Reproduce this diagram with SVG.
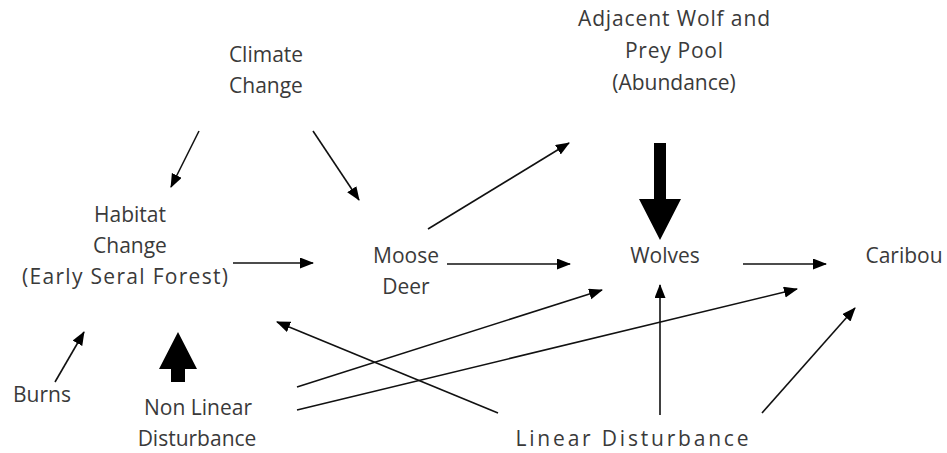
<svg xmlns="http://www.w3.org/2000/svg" width="947" height="453" viewBox="0 0 947 453">
<style>
text{font-family:"Open Sans","DejaVu Sans",sans-serif;font-size:21px;fill:#3a3a3a;text-anchor:middle}
.c line{stroke:#111;stroke-width:1.6;marker-end:url(#ah)}
.thick{fill:#000}
</style>
<defs>
<marker id="ah" markerUnits="userSpaceOnUse" markerWidth="14" markerHeight="12" refX="13" refY="5.5" orient="auto">
<path d="M0,0 L14,5.5 L0,11 z" fill="#000"/>
</marker>
</defs>
<rect width="947" height="453" fill="#fff"/>
<g id="climate"><text x="266" y="62">Climate</text><text x="266" y="93">Change</text></g>
<g id="habitat"><text x="130" y="222">Habitat</text><text x="130" y="253">Change</text><text x="125" y="284" textLength="206" lengthAdjust="spacing">(Early Seral Forest)</text></g>
<g id="moose"><text x="406" y="263">Moose</text><text x="406" y="294">Deer</text></g>
<g id="adjacent"><text x="674" y="26" textLength="192" lengthAdjust="spacing">Adjacent Wolf and</text><text x="674" y="58" textLength="98" lengthAdjust="spacing">Prey Pool</text><text x="674" y="90">(Abundance)</text></g>
<g id="wolves"><text x="665" y="263">Wolves</text></g>
<g id="caribou"><text x="904" y="263">Caribou</text></g>
<g id="burns"><text x="42" y="402">Burns</text></g>
<g id="nonlinear"><text x="198" y="415">Non Linear</text><text x="197" y="446">Disturbance</text></g>
<g id="linear"><text x="632" y="446" textLength="233" lengthAdjust="spacing">Linear Disturbance</text></g>
<g id="connectors" class="c">
<line x1="199" y1="131" x2="171" y2="187"/>
<line x1="313" y1="131" x2="359" y2="200"/>
<line x1="428" y1="229" x2="569" y2="143"/>
<line x1="233" y1="263" x2="313" y2="263"/>
<line x1="447" y1="264" x2="570" y2="264"/>
<line x1="743" y1="264" x2="826" y2="264"/>
<line x1="55" y1="382" x2="84" y2="332"/>
<line x1="297" y1="387" x2="602" y2="290"/>
<line x1="297" y1="410" x2="797" y2="289"/>
<line x1="498" y1="413" x2="277" y2="322"/>
<line x1="660" y1="415" x2="660" y2="285"/>
<line x1="762" y1="413" x2="855" y2="308"/>
<polygon class="thick" points="654,143 666,143 666,199 681,199 660,240 639,199 654,199"/>
<polygon class="thick" points="171,382 185,382 185,369 197,369 178,332 159,369 171,369"/>
</g>
</svg>
